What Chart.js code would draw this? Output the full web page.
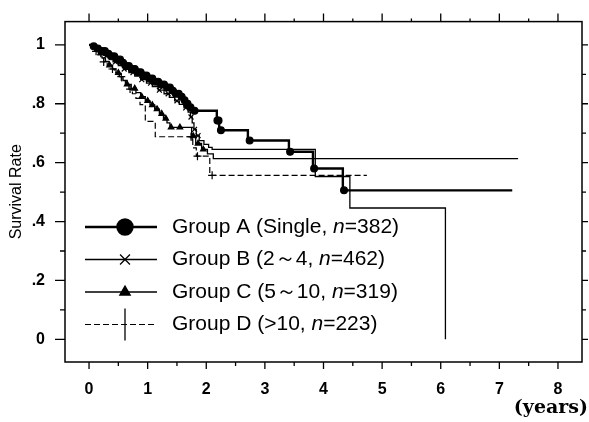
<!DOCTYPE html>
<html><head><meta charset="utf-8">
<script src="https://cdn.jsdelivr.net/npm/chart.js@4/dist/chart.umd.min.js"></script>
<style>html,body{margin:0;padding:0;background:#fff}#wrap{width:589px;height:422px;position:relative}</style>
</head><body><div id="wrap"><canvas id="c" width="589" height="422"></canvas></div>
<script>
// ---- axis ticks ----
const xTicks = [0,1,2,3,4,5,6,7,8];
const xMinorTicks = [0.5,1.5,2.5,3.5,4.5,5.5,6.5,7.5];
const yTicks = [0,0.2,0.4,0.6,0.8,1];
const yTickLabels = ['0','.2','.4','.6','.8','1'];
const yMinorTicks = [0.1,0.3,0.5,0.7,0.9];

// ---- legend text ----
const groupLabels = ['Group A (Single, ','Group B (2\uFF5E4, ','Group C (5\uFF5E10, ','Group D (>10, '];
const groupN = ['382','462','319','223'];

// ---- Kaplan-Meier step curves (time in years, survival) ----
const timeA = [0,0.05,0.12,0.2,0.28,0.36,0.45,0.54,0.63,0.72,0.82,0.92,1.02,1.12,1.22,1.31,1.40,1.48,1.55,1.61,1.66,1.71,1.76,2.18,2.22,2.71,3.41,3.82,4.33,7.22];
const survA = [1,0.995,0.988,0.979,0.970,0.961,0.950,0.939,0.928,0.918,0.907,0.896,0.886,0.875,0.865,0.855,0.844,0.834,0.824,0.812,0.800,0.788,0.776,0.743,0.710,0.675,0.637,0.580,0.506,0.506];

const timeB = [0,0.04,0.10,0.17,0.25,0.33,0.41,0.50,0.59,0.68,0.78,0.88,0.98,1.08,1.18,1.28,1.37,1.46,1.54,1.62,1.69,1.73,1.76,1.79,1.83,1.88,1.96,2.04,2.10,3.86,4.45,6.08];
const survB = [1,0.994,0.985,0.975,0.964,0.953,0.942,0.930,0.918,0.906,0.894,0.882,0.870,0.858,0.846,0.834,0.822,0.810,0.798,0.786,0.772,0.755,0.735,0.713,0.692,0.675,0.662,0.652,0.645,0.553,0.446,0];

const timeC = [0,0.05,0.10,0.16,0.22,0.28,0.34,0.40,0.46,0.52,0.58,0.65,0.72,0.80,0.88,0.96,1.04,1.12,1.20,1.27,1.33,1.38,1.75,1.82,1.92,2.02,2.12,7.32];
const survC = [1,0.990,0.980,0.968,0.956,0.944,0.931,0.918,0.905,0.892,0.879,0.866,0.852,0.838,0.824,0.810,0.796,0.782,0.766,0.750,0.735,0.720,0.690,0.665,0.645,0.630,0.614,0.614];

const timeD = [0,0.05,0.10,0.15,0.20,0.25,0.31,0.37,0.43,0.50,0.56,0.62,0.68,0.74,0.80,0.87,0.96,1.13,1.77,1.83,2.06,4.74];
const survD = [1,0.990,0.978,0.966,0.954,0.942,0.930,0.918,0.905,0.892,0.878,0.864,0.850,0.834,0.818,0.797,0.740,0.688,0.650,0.622,0.557,0.557];

// ---- censoring marks (times) ----
const censorA = [0.08,0.15,0.22,0.27,0.33,0.38,0.43,0.48,0.53,0.58,0.63,0.68,0.73,0.78,0.83,0.88,0.93,0.98,1.03,1.08,1.13,1.18,1.23,1.28,1.33,1.38,1.43,1.48,1.53,1.58,1.63,1.68,1.73,1.80,2.19,2.21,2.25,2.74,3.43,3.84,4.35];
const censorB = [0.12,0.3,0.45,0.6,0.75,0.9,1.05,1.2,1.35,1.5,1.65,1.74,1.80,1.86];
const censorC = [0.35,0.5,0.65,0.78,0.9,1.0,1.08,1.16,1.24,1.31,1.40,1.55,1.78,1.86,1.95];
const censorD = [0.12,0.25,0.4,0.55,0.7,1.74,1.76,1.85,2.1];

function survAt(ts, ss, t){ let s = ss[0]; for(let i=0;i<ts.length;i++){ if(ts[i]<=t) s=ss[i]; } return s; }
function pts(ts, ss){ return ts.map((t,i)=>({x:t,y:ss[i]})); }
function marks(cs, ts, ss){ return cs.map(t=>({x:t,y:survAt(ts,ss,t)})); }

const styles = [
  {lw:2.4, dash:[], ps:'circle', r:3.4, lr:7.5},
  {lw:1.3, dash:[], ps:'crossRot', r:3.5, lr:7},
  {lw:1.3, dash:[], ps:'triangle', r:3.2, lr:6},
  {lw:1.2, dash:[6,3], ps:'cross', r:4, lr:16}
];
const curves = [[timeA,survA,censorA],[timeB,survB,censorB],[timeC,survC,censorC],[timeD,survD,censorD]];

const datasets = [];
curves.forEach((c,i)=>{
  datasets.push({type:'line', data:pts(c[0],c[1]), stepped:'before', borderColor:'#000', borderWidth:styles[i].lw, borderDash:styles[i].dash, pointRadius:0, fill:false});
});
curves.forEach((c,i)=>{
  datasets.push({type:'line', data:marks(c[2],c[0],c[1]), showLine:false, pointStyle:styles[i].ps, pointRadius:styles[i].r, pointBorderWidth:1.2, pointBackgroundColor:'#000', pointBorderColor:'#000'});
});

const FONT = '"Liberation Sans", Arial, Helvetica, sans-serif';

const framePlugin = {
  id:'frame',
  afterDraw(chart){
    const {ctx, chartArea:a, scales:{x,y}} = chart;
    ctx.save();
    ctx.strokeStyle='#000'; ctx.lineWidth=1.5; ctx.setLineDash([]);
    ctx.strokeRect(a.left,a.top,a.right-a.left,a.bottom-a.top);
    ctx.lineWidth=1.3;
    ctx.beginPath();
    xTicks.forEach(v=>{const p=x.getPixelForValue(v); ctx.moveTo(p,a.bottom); ctx.lineTo(p,a.bottom+7); ctx.moveTo(p,a.top); ctx.lineTo(p,a.top-8);});
    xMinorTicks.forEach(v=>{const p=x.getPixelForValue(v); ctx.moveTo(p,a.bottom); ctx.lineTo(p,a.bottom+4); ctx.moveTo(p,a.top); ctx.lineTo(p,a.top-3);});
    yTicks.forEach(v=>{const p=y.getPixelForValue(v); ctx.moveTo(a.left,p); ctx.lineTo(a.left-10,p); ctx.moveTo(a.right,p); ctx.lineTo(a.right+6,p);});
    yMinorTicks.forEach(v=>{const p=y.getPixelForValue(v); ctx.moveTo(a.left,p); ctx.lineTo(a.left-5,p); ctx.moveTo(a.right,p); ctx.lineTo(a.right+4,p);});
    ctx.stroke();

    // legend
    const y0 = 227, dy = 32.5;
    styles.forEach((s,i)=>{
      const yy = y0 + i*dy;
      ctx.strokeStyle='#000'; ctx.fillStyle='#000';
      ctx.lineWidth = s.lw; ctx.setLineDash(s.dash);
      ctx.beginPath(); ctx.moveTo(85,yy); ctx.lineTo(157,yy); ctx.stroke();
      ctx.setLineDash([]);
      if (i===3) {
        ctx.lineWidth=1.3; ctx.beginPath(); ctx.moveTo(125,yy-16); ctx.lineTo(125,yy+16); ctx.stroke();
      } else {
        Chart.helpers.drawPoint(ctx,{pointStyle:s.ps, radius:s.lr, borderWidth:1.4, rotation:0},125,yy);
      }
      ctx.textBaseline='middle'; ctx.textAlign='left';
      ctx.font = '21px ' + FONT;
      let tx = 172;
      ctx.fillText(groupLabels[i], tx, yy); tx += ctx.measureText(groupLabels[i]).width;
      ctx.font = 'italic 21px ' + FONT;
      ctx.fillText('n', tx, yy); tx += ctx.measureText('n').width;
      ctx.font = '21px ' + FONT;
      ctx.fillText('=' + groupN[i] + ')', tx, yy);
    });
    // unit label
    ctx.font = 'bold 19px "DejaVu Serif", "Liberation Serif", serif';
    ctx.textAlign='right'; ctx.textBaseline='middle';
    ctx.fillText('(years)', 588, 408);
    ctx.restore();
  }
};

new Chart(document.getElementById('c'), {
  data:{datasets},
  options:{
    responsive:false, animation:false, devicePixelRatio:1,
    layout:{padding:{left:0,top:16,right:7,bottom:0}},
    plugins:{legend:{display:false}, tooltip:{enabled:false}},
    scales:{
      x:{type:'linear', min:-0.41, max:8.41,
        afterBuildTicks:s=>{s.ticks = xTicks.map(v=>({value:v}));},
        afterFit:s=>{s.height=60;},
        grid:{display:false}, border:{display:false},
        ticks:{color:'#000', font:{family:FONT, size:16, weight:'bold'}, padding:10, maxRotation:0, autoSkip:false, callback:v=>String(v)}
      },
      y:{type:'linear', min:-0.077, max:1.079,
        afterBuildTicks:s=>{s.ticks = yTicks.map(v=>({value:v}));},
        afterFit:s=>{s.width=65;},
        grid:{display:false}, border:{display:false},
        ticks:{color:'#000', font:{family:FONT, size:16, weight:'bold'}, padding:12, autoSkip:false, callback:v=>yTickLabels[yTicks.indexOf(v)]},
        title:{display:true, text:'Survival Rate', color:'#000', font:{family:FONT, size:16}, padding:{top:7,bottom:0}}
      }
    }
  },
  plugins:[framePlugin]
});
</script></body></html>
